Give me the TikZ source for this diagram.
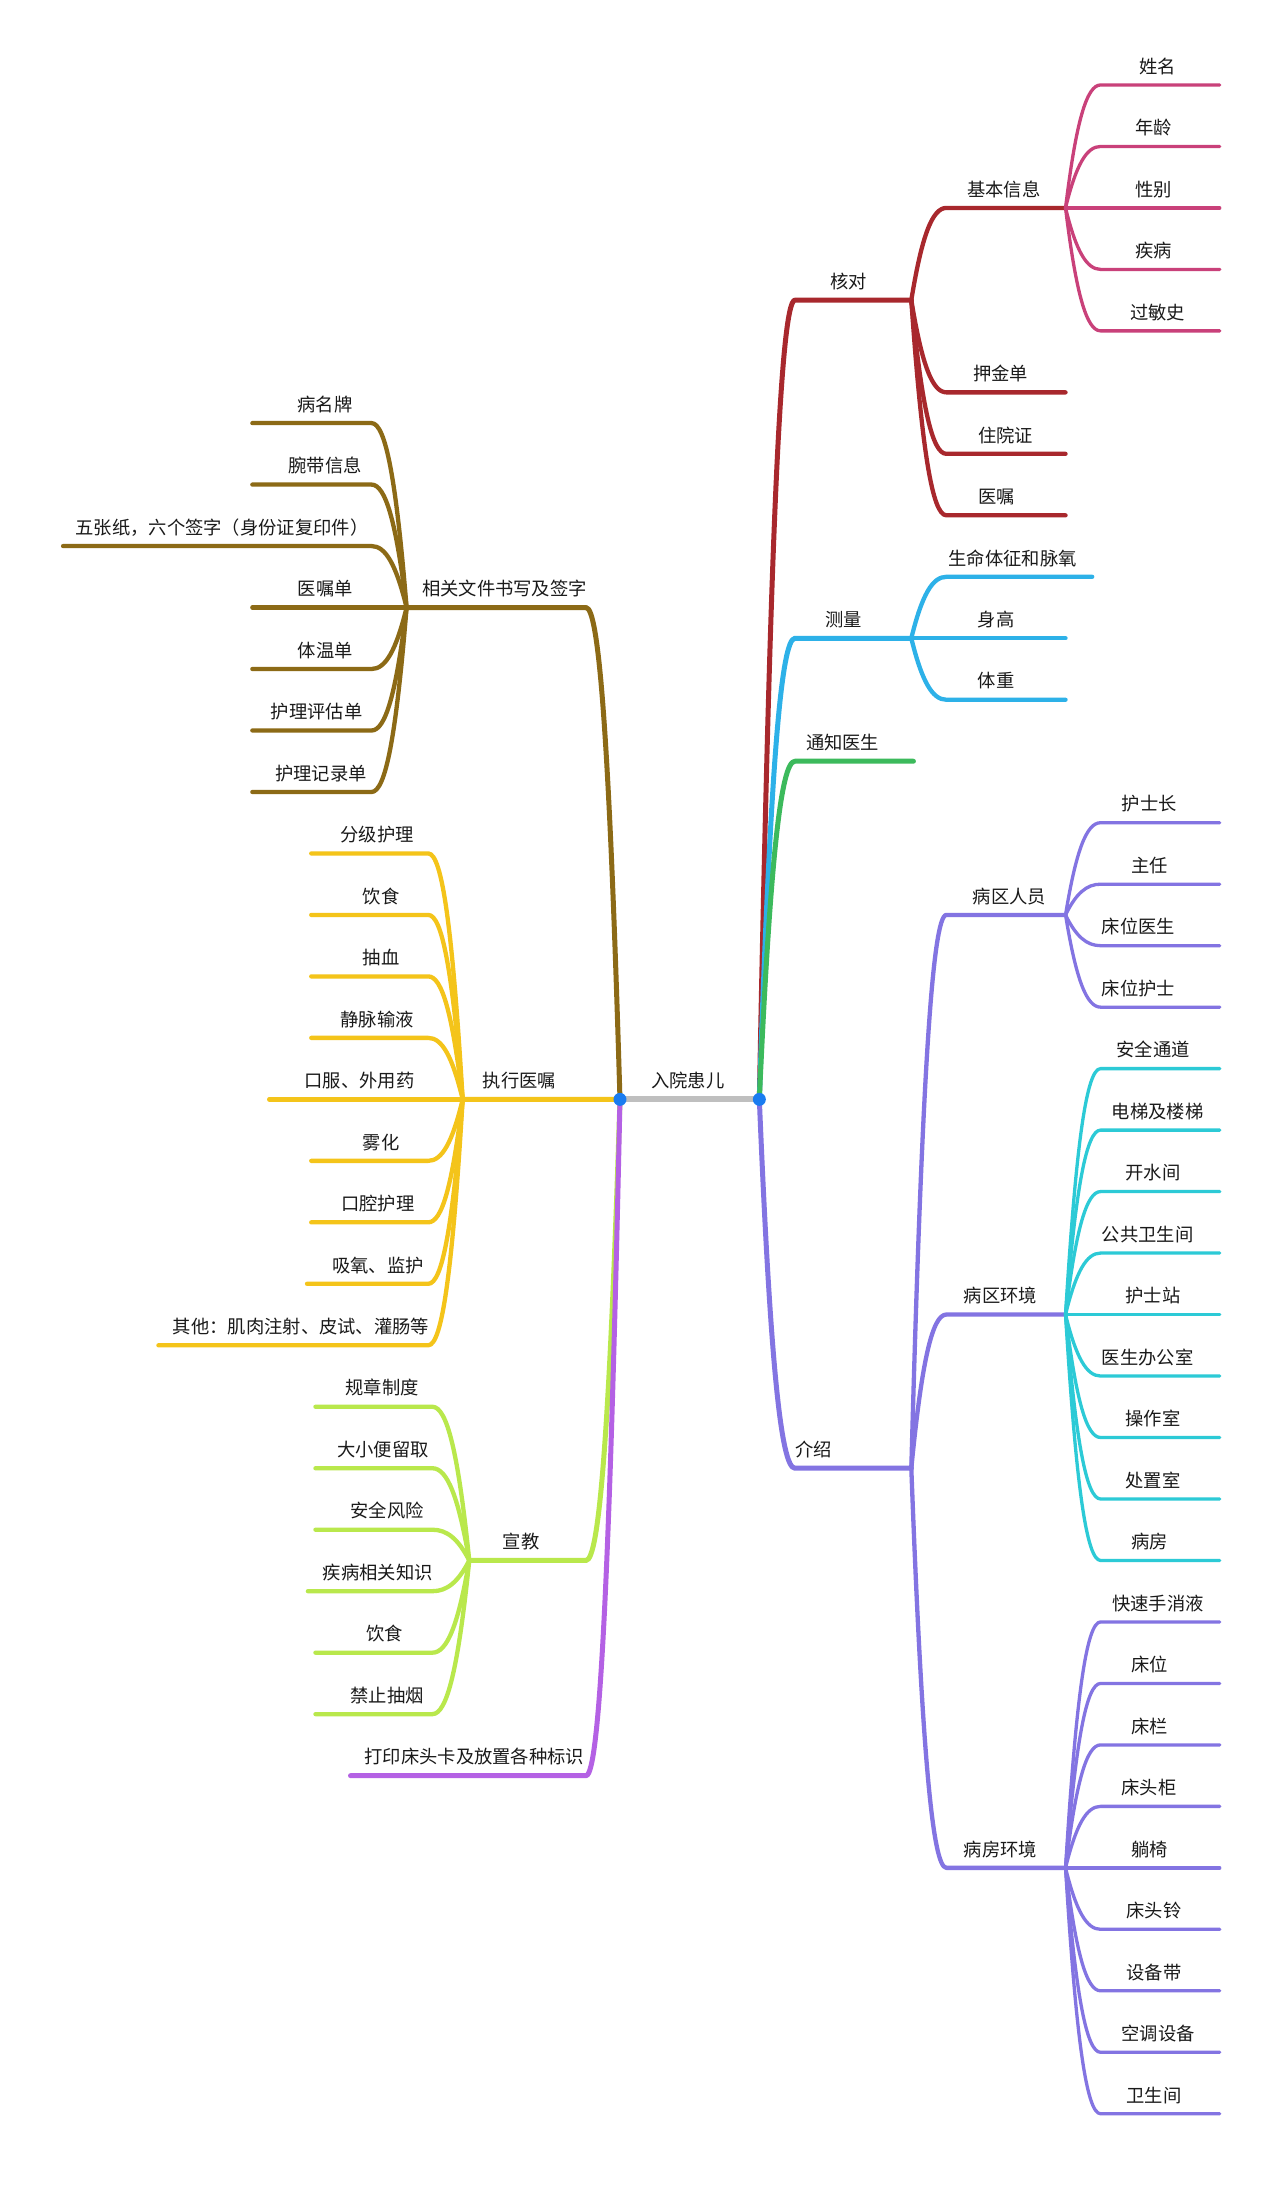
\documentclass[tikz,border=0pt]{standalone}
\usepackage{fontspec}
\newfontfamily\cjk{Noto Sans CJK SC}
\usetikzlibrary{calc}
\definecolor{cred}{HTML}{A8282D}
\definecolor{cpink}{HTML}{C9417A}
\definecolor{cblue}{HTML}{2DB1E8}
\definecolor{cgreen}{HTML}{3CBA5C}
\definecolor{cpurple}{HTML}{8374E2}
\definecolor{ccyan}{HTML}{2CCAD6}
\definecolor{cbrown}{HTML}{8C6A16}
\definecolor{cyellow}{HTML}{F4C41A}
\definecolor{clime}{HTML}{B9E84C}
\definecolor{cviolet}{HTML}{B461E4}
\definecolor{cgray}{HTML}{BFBFBF}
\definecolor{cdot}{HTML}{1A7CF0}
\definecolor{txt}{HTML}{1A1A1A}
\newcommand\ry[1]{60.6+43.85*#1}
\newcommand\ly[1]{784.125+43.85*#1-482.35}
\newcommand\topic[6]{%
  \coordinate (#1-s) at ({#2},{#5});
  \coordinate (#1-e) at ({#3},{#5});
  \node[lbl] (#1) at ({#4},{#5-8.4}) {#6};}
\newcommand\link[3]{%
  \draw[#1] let \p1=(#2), \p2=(#3-s) in (\p1)
    .. controls ({\x1+0.3*(\x2-\x1)},{\y1+0.7*(\y2-\y1)}) and ({\x1+0.6*(\x2-\x1)},{\y2}) .. (\p2) -- (#3-e);}
\tikzset{
  base/.style={line cap=round, line join=round},
  Lone/.style={base, line width=5pt},
  Ltwo/.style={base, line width=4.3pt},
  Lthree/.style={base, line width=3.3pt},
  lbl/.style={anchor=base, inner sep=0pt, text=txt, font=\cjk\fontsize{18.3}{20}\selectfont},
}
\begin{document}
\begin{tikzpicture}[x=1.402pt,y=-1.402pt]
\fill[white] (0,0) rectangle (913,1565.6);
\useasboundingbox (0,0) rectangle (913,1565.6);

% root
\coordinate (rL) at (442.2,784.125);
\coordinate (rR) at (541.6,784.125);
\node[lbl] (root) at (490.7,775.725) {入院患儿};

% ---------- right side topics ----------
\topic{hd}{567}{650}{605.1}{\ry{3.5}}{核对}
\topic{jb}{675}{760}{716.1}{\ry{2}}{基本信息}
\topic{xm}{785}{870}{825.7}{\ry{0}}{姓名}
\topic{nl}{785}{870}{822.6}{\ry{1}}{年龄}
\topic{xb}{785}{870}{822.6}{\ry{2}}{性别}
\topic{jbg}{785}{870}{822.6}{\ry{3}}{疾病}
\topic{gms}{785}{870}{825.7}{\ry{4}}{过敏史}
\topic{yjd}{675}{760}{713.7}{\ry{5}}{押金单}
\topic{zyz}{675}{760}{717.3}{\ry{6}}{住院证}
\topic{yz}{675}{760}{710.9}{\ry{7}}{医嘱}
\topic{cl}{567}{650}{601.5}{\ry{9}}{测量}
\topic{smtz}{675}{779}{722.3}{\ry{8}}{生命体征和脉氧}
\topic{sg}{675}{760}{710.4}{\ry{9}}{身高}
\topic{tz}{675}{760}{710.4}{\ry{10}}{体重}
\topic{tzys}{567}{651.5}{601}{\ry{11}}{通知医生}
\topic{js}{567}{650}{580.4}{\ry{22.5}}{介绍}
\topic{bqry}{675}{760}{720}{\ry{13.5}}{病区人员}
\topic{hsz}{785}{870}{819.8}{\ry{12}}{护士长}
\topic{zr}{785}{870}{820.1}{\ry{13}}{主任}
\topic{cwys}{785}{870}{811.9}{\ry{14}}{床位医生}
\topic{cwhs}{785}{870}{811.9}{\ry{15}}{床位护士}
\topic{bqhj}{675}{760}{713.5}{\ry{20}}{病区环境}
\topic{aqtd}{785}{870}{822.4}{\ry{16}}{安全通道}
\topic{dt}{785}{870}{825.7}{\ry{17}}{电梯及楼梯}
\topic{ksj}{785}{870}{822.4}{\ry{18}}{开水间}
\topic{ggws}{785}{870}{818.5}{\ry{19}}{公共卫生间}
\topic{hszh}{785}{870}{822.4}{\ry{20}}{护士站}
\topic{ysbg}{785}{870}{818.5}{\ry{21}}{医生办公室}
\topic{czs}{785}{870}{822.4}{\ry{22}}{操作室}
\topic{czhs}{785}{870}{822.4}{\ry{23}}{处置室}
\topic{bf}{785}{870}{819.8}{\ry{24}}{病房}
\topic{bfhj}{675}{760}{713.5}{\ry{29}}{病房环境}
\topic{ksx}{785}{870}{826}{\ry{25}}{快速手消液}
\topic{cw}{785}{870}{820}{\ry{26}}{床位}
\topic{clan}{785}{870}{820}{\ry{27}}{床栏}
\topic{ctg}{785}{870}{819.5}{\ry{28}}{床头柜}
\topic{ty}{785}{870}{820}{\ry{29}}{躺椅}
\topic{ctl}{785}{870}{823}{\ry{30}}{床头铃}
\topic{sbd}{785}{870}{823}{\ry{31}}{设备带}
\topic{ktsb}{785}{870}{826}{\ry{32}}{空调设备}
\topic{wsj}{785}{870}{823}{\ry{33}}{卫生间}

% ---------- left side topics ----------
\topic{xg}{418}{290}{359.8}{\ly{3}}{相关文件书写及签字}
\topic{bmp}{265}{180}{231.9}{\ly{0}}{病名牌}
\topic{wdxx}{265}{180}{231.9}{\ly{1}}{腕带信息}
\topic{wzz}{265}{45}{158.3}{\ly{2}}{五张纸，六个签字（身份证复印件）}
\topic{yzd}{265}{180}{232}{\ly{3}}{医嘱单}
\topic{twd}{265}{180}{232}{\ly{4}}{体温单}
\topic{hlpg}{265}{180}{225.8}{\ly{5}}{护理评估单}
\topic{hljl}{265}{180}{229}{\ly{6}}{护理记录单}
\topic{zx}{418}{330}{370.4}{\ly{11}}{执行医嘱}
\topic{fjhl}{305.5}{222}{269}{\ly{7}}{分级护理}
\topic{ys}{305.5}{222}{271.8}{\ly{8}}{饮食}
\topic{cx}{305.5}{222}{271.8}{\ly{9}}{抽血}
\topic{jmsy}{305.5}{222}{269}{\ly{10}}{静脉输液}
\topic{kf}{305.5}{192}{256.4}{\ly{11}}{口服、外用药}
\topic{wh}{305.5}{222}{271.8}{\ly{12}}{雾化}
\topic{kqhl}{305.5}{222}{269.4}{\ly{13}}{口腔护理}
\topic{xy}{305.5}{219}{269.7}{\ly{14}}{吸氧、监护}
\topic{qt}{305.5}{113}{214.7}{\ly{15}}{其他：肌肉注射、皮试、灌肠等}
\topic{xj}{418}{334.7}{371.8}{\ly{18.5}}{宣教}
\topic{gzzd}{308.4}{225}{272.5}{\ly{16}}{规章制度}
\topic{dxb}{308.4}{225}{273.2}{\ly{17}}{大小便留取}
\topic{aqfx}{308.4}{225}{276.2}{\ly{18}}{安全风险}
\topic{jbzs}{308.4}{219.6}{269.4}{\ly{19}}{疾病相关知识}
\topic{ys2}{308.4}{225}{274.6}{\ly{20}}{饮食}
\topic{jzcy}{308.4}{225}{276.2}{\ly{21}}{禁止抽烟}
\topic{dy}{418}{250}{338.3}{\ly{22}}{打印床头卡及放置各种标识}

% ---------- connectors: right ----------
\link{Lone,cred}{rR}{hd}
\link{Ltwo,cred}{hd-e}{jb}
\foreach \c in {xm,nl,xb,jbg,gms} {\link{Lthree,cpink}{jb-e}{\c}}
\foreach \c in {yjd,zyz,yz} {\link{Ltwo,cred}{hd-e}{\c}}
\link{Lone,cblue}{rR}{cl}
\foreach \c in {smtz,sg,tz} {\link{Ltwo,cblue}{cl-e}{\c}}
\link{Lone,cgreen}{rR}{tzys}
\link{Lone,cpurple}{rR}{js}
\foreach \c in {bqry,bqhj,bfhj} {\link{Ltwo,cpurple}{js-e}{\c}}
\foreach \c in {hsz,zr,cwys,cwhs} {\link{Lthree,cpurple}{bqry-e}{\c}}
\foreach \c in {aqtd,dt,ksj,ggws,hszh,ysbg,czs,czhs,bf} {\link{Lthree,ccyan}{bqhj-e}{\c}}
\foreach \c in {ksx,cw,clan,ctg,ty,ctl,sbd,ktsb,wsj} {\link{Lthree,cpurple}{bfhj-e}{\c}}

% ---------- connectors: left ----------
\link{Lone,cbrown}{rL}{xg}
\foreach \c in {bmp,wdxx,wzz,yzd,twd,hlpg,hljl} {\link{Ltwo,cbrown}{xg-e}{\c}}
\link{Lone,cyellow}{rL}{zx}
\foreach \c in {fjhl,ys,cx,jmsy,kf,wh,kqhl,xy,qt} {\link{Ltwo,cyellow}{zx-e}{\c}}
\link{Lone,clime}{rL}{xj}
\foreach \c in {gzzd,dxb,aqfx,jbzs,ys2,jzcy} {\link{Ltwo,clime}{xj-e}{\c}}
\link{Lone,cviolet}{rL}{dy}

% root line and dots
\draw[base,line width=6pt,cgray] (rL) -- (rR);
\fill[cdot] (rL) circle[radius=6.5pt];
\fill[cdot] (rR) circle[radius=6.5pt];
\end{tikzpicture}
\end{document}
